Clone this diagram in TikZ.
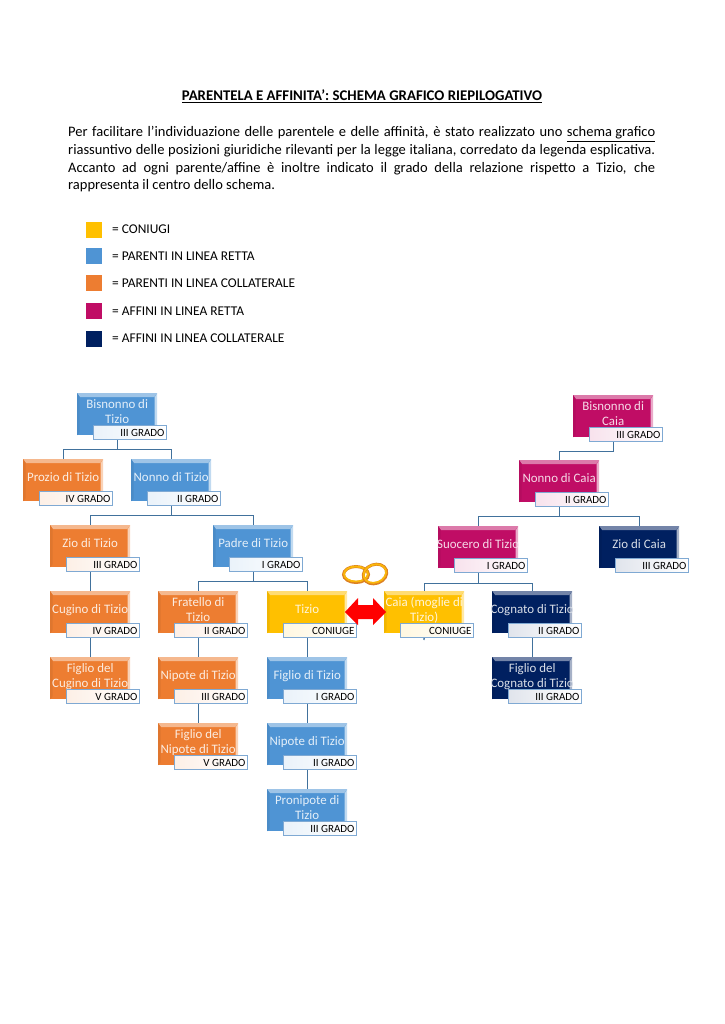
\documentclass[tikz,border=0pt]{standalone}
\usepackage{fontspec}
\setmainfont{Carlito}
\usetikzlibrary{backgrounds}
\definecolor{cblue}{HTML}{4F94D4}
\definecolor{corange}{HTML}{ED7D31}
\definecolor{cgold}{HTML}{FFC000}
\definecolor{cpink}{HTML}{C00D65}
\definecolor{cnavy}{HTML}{002060}
\definecolor{lineblue}{HTML}{41719C}
\definecolor{labelborder}{HTML}{7FA9D3}
\tikzset{
  x=1pt,y=-1pt,
  member/.style={anchor=north west,minimum width=80pt,minimum height=42pt,inner sep=0pt,
    fill=#1,text=white!85!#1,font=\fontsize{12.9}{15}\selectfont,
    path picture={
      \fill[#1!55!white] (path picture bounding box.north west) -- (path picture bounding box.north east)
        -- ([xshift=-3pt,yshift=-4pt]path picture bounding box.north east)
        -- ([xshift=3pt,yshift=-4pt]path picture bounding box.north west) -- cycle;
      \fill[#1!35!white] (path picture bounding box.north east) -- (path picture bounding box.south east)
        -- ([xshift=-2.5pt,yshift=3pt]path picture bounding box.south east)
        -- ([xshift=-2.5pt,yshift=-4pt]path picture bounding box.north east) -- cycle;
      \fill[#1!94!black] (path picture bounding box.north west) -- (path picture bounding box.south west)
        -- ([xshift=2.5pt,yshift=3pt]path picture bounding box.south west)
        -- ([xshift=2.5pt,yshift=-4pt]path picture bounding box.north west) -- cycle;
    }},
  gradebox/.style={anchor=north west,minimum width=73pt,minimum height=14pt,inner sep=0pt,
    draw=labelborder,line width=1pt,left color=#1!12!white,right color=white,
    text=black,font=\fontsize{11}{12}\selectfont},
  conn/.style={draw=lineblue,line width=1.4pt},
  legendsq/.style={minimum size=16.5pt,inner sep=0pt,fill=#1},
  legendtxt/.style={anchor=west,inner sep=0pt,font=\fontsize{13.4}{15}\selectfont},
  ringgold/.style={draw=#1,fill=none}
}
% name, x, y, colour, text, grade
\newcommand\kinbox[6]{%
  \node[member=#4] (#1) at (#2,#3) {\raisebox{-1.5pt}[0pt][0pt]{\makebox[80pt]{\begin{tabular}{@{}c@{}}#5\end{tabular}}}};
  \node[gradebox=#4] (#1g) at (#2+16,#3+32) {\makebox[73pt][r]{#6\hspace{2pt}}};
}
\begin{document}
\begin{tikzpicture}
\useasboundingbox (0,0) rectangle (724,1024);

\node[anchor=center,inner sep=0pt,font=\fontsize{14.8}{17}\selectfont\bfseries] (title) at (362,96.5)
  {\underline{PARENTELA E AFFINITA’: SCHEMA GRAFICO RIEPILOGATIVO}};
\node[anchor=north west,inner sep=0pt,align=left,font=\fontsize{14.5}{17.6}\selectfont] (para) at (68,126.5) {%
  \makebox[587pt][s]{Per facilitare l’individuazione delle parentele e delle affinità, è stato realizzato uno \underline{schema grafico}}\\
  \makebox[587pt][s]{riassuntivo delle posizioni giuridiche rilevanti per la legge italiana, corredato da legenda esplicativa.}\\
  \makebox[587pt][s]{Accanto ad ogni parente/affine è inoltre indicato il grado della relazione rispetto a Tizio, che}\\
  rappresenta il centro dello schema.};

\node[legendsq=cgold] (l1) at (94,230) {};
\node[legendsq=cblue] (l2) at (94,256) {};
\node[legendsq=corange] (l3) at (94,283) {};
\node[legendsq=cpink] (l4) at (94,311) {};
\node[legendsq=cnavy] (l5) at (94,339) {};
\node[legendtxt] (t1) at (112,229.5) {= CONIUGI};
\node[legendtxt] (t2) at (112,256.5) {= PARENTI IN LINEA RETTA};
\node[legendtxt] (t3) at (112,283.5) {= PARENTI IN LINEA COLLATERALE};
\node[legendtxt] (t4) at (112,311.5) {= AFFINI IN LINEA RETTA};
\node[legendtxt] (t5) at (112,338.5) {= AFFINI IN LINEA COLLATERALE};

\kinbox{bis}{77}{393}{cblue}{Bisnonno di\\Tizio}{III GRADO}
\kinbox{pro}{23}{459}{corange}{Prozio di Tizio}{IV GRADO}
\kinbox{non}{131}{459}{cblue}{Nonno di Tizio}{II GRADO}
\kinbox{zio}{50}{525}{corange}{Zio di Tizio}{III GRADO}
\kinbox{pad}{213}{525}{cblue}{Padre di Tizio}{I GRADO}
\kinbox{cug}{50}{591}{corange}{Cugino di Tizio}{IV GRADO}
\kinbox{fra}{158}{591}{corange}{Fratello di\\Tizio}{II GRADO}
\kinbox{tiz}{267}{591}{cgold}{Tizio}{CONIUGE}
\kinbox{cai}{384}{591}{cgold}{Caia (moglie di\\Tizio)}{CONIUGE}
\kinbox{cog}{492}{591}{cnavy}{Cognato di Tizio}{II GRADO}
\kinbox{fcu}{50}{657}{corange}{Figlio del\\Cugino di Tizio}{V GRADO}
\kinbox{nip}{158}{657}{corange}{Nipote di Tizio}{III GRADO}
\kinbox{fig}{267}{657}{cblue}{Figlio di Tizio}{I GRADO}
\kinbox{fco}{492}{657}{cnavy}{Figlio del\\Cognato di Tizio}{III GRADO}
\kinbox{fni}{158}{723}{corange}{Figlio del\\Nipote di Tizio}{V GRADO}
\kinbox{nid}{267}{723}{cblue}{Nipote di Tizio}{II GRADO}
\kinbox{prn}{267}{789}{cblue}{Pronipote di\\Tizio}{III GRADO}
\kinbox{bic}{573}{395}{cpink}{Bisnonno di\\Caia}{III GRADO}
\kinbox{noc}{519}{460}{cpink}{Nonno di Caia}{II GRADO}
\kinbox{suo}{438}{526}{cpink}{Suocero di Tizio}{I GRADO}
\kinbox{zic}{599}{526}{cnavy}{Zio di Caia}{III GRADO}
\coordinate (caistub) at (424,640);

\begin{pgfonlayer}{background}
\draw[conn] (bis.south) -- ++(0,14) -| (pro.north);
\draw[conn] (bis.south) -- ++(0,14) -| (non.north);
\draw[conn] (non.south) -- ++(0,14) -| (zio.north);
\draw[conn] (non.south) -- ++(0,14) -| (pad.north);
\draw[conn] (zio.south) -- (cug.north);
\draw[conn] (cug.south) -- (fcu.north);
\draw[conn] (pad.south) -- ++(0,14) -| (fra.north);
\draw[conn] (pad.south) -- ++(0,14) -| (tiz.north);
\draw[conn] (fra.south) -- (nip.north);
\draw[conn] (nip.south) -- (fni.north);
\draw[conn] (tiz.south) -- (fig.north);
\draw[conn] (fig.south) -- (nid.north);
\draw[conn] (nid.south) -- (prn.north);
\draw[conn] (bic.south) -- ++(0,14) -| (noc.north);
\draw[conn] (noc.south) -- ++(0,14) -| (suo.north);
\draw[conn] (noc.south) -- ++(0,14) -| (zic.north);
\draw[conn] (suo.south) -- ++(0,15) -| (cai.north);
\draw[conn] (suo.south) -- ++(0,15) -| (cog.north);
\draw[conn] (cai.south) -- (caistub);
\draw[conn] (cog.south) -- (fco.north);
\end{pgfonlayer}

% wedding rings
\draw[ringgold=brown!55!orange,line width=3pt] (356,574.5) ellipse (12.5 and 8);
\draw[ringgold=yellow!45!orange,line width=1.8pt] (356,574) ellipse (12 and 7.5);
\draw[ringgold=brown!55!orange,line width=3pt,rotate around={20:(375,574)}] (375,574) ellipse (12 and 9.5);
\draw[ringgold=yellow!45!orange,line width=1.8pt,rotate around={20:(375,574)}] (375,573.5) ellipse (11.5 and 9);

% double arrow
\fill[red] (345,612) -- (358,598) -- (358,605) -- (373,605) -- (373,598) -- (386,612)
  -- (373,625) -- (373,619) -- (358,619) -- (358,625) -- cycle;
\end{tikzpicture}
\end{document}
